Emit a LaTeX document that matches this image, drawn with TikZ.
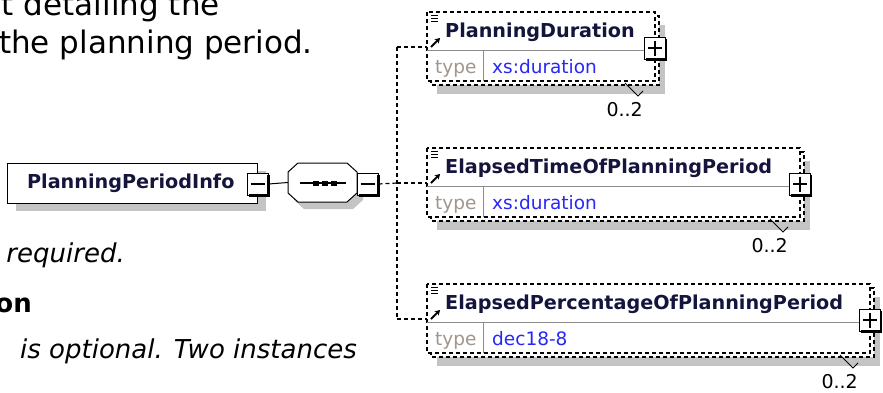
\documentclass[tikz,border=0pt]{standalone}
\usepackage{fontspec}
\setmainfont{DejaVu Sans}[ItalicFont={DejaVu Sans Oblique},BoldFont={DejaVu Sans Bold},BoldItalicFont={DejaVu Sans Bold Oblique}]
\usetikzlibrary{arrows.meta}
\definecolor{shadowgray}{RGB}{196,196,196}
\definecolor{typegray}{RGB}{160,150,140}
\definecolor{valblue}{RGB}{40,40,245}
\definecolor{divgray}{RGB}{140,140,140}
\definecolor{namecol}{RGB}{20,20,60}
\tikzset{
  dsh/.style={dash pattern=on 4pt off 3pt, line width=1.2pt},
  pmbox/.style={draw=black, fill=white, line width=1pt, minimum width=21pt, minimum height=22pt, inner sep=0pt},
  ename/.style={anchor=base west, inner sep=0pt, text=namecol, font=\fontsize{19.2}{23}\selectfont\bfseries},
  tlabel/.style={anchor=base west, inner sep=0pt, text=typegray, font=\fontsize{18.5}{22}\selectfont},
  vlabel/.style={anchor=base west, inner sep=0pt, text=valblue, font=\fontsize{18.5}{22}\selectfont},
  occ/.style={anchor=base east, inner sep=0pt, font=\fontsize{19}{22}\selectfont},
  body/.style={overlay, anchor=base east, inner sep=0pt, font=\fontsize{31}{37}\selectfont},
  bodyit/.style={overlay, anchor=base east, inner sep=0pt, font=\fontsize{26}{31}\selectfont\itshape},
  bodybf/.style={overlay, anchor=base east, inner sep=0pt, font=\fontsize{26}{31}\selectfont\bfseries},
  mainbox/.style={draw=black, fill=white, line width=1pt, minimum height=40pt, inner xsep=0pt, inner ysep=0pt,
     text=namecol, font=\fontsize{19.2}{23}\selectfont\bfseries},
}
\newcommand\mkpm[4]{%
  \node[pmbox] (#1) at (#2,#3) {};
  \draw[line width=2.4pt] ([yshift=-2pt]#1.north east) -- (#1.south east) -- ([xshift=2pt]#1.south west);
  \draw[line width=1.2pt] ([xshift=4pt]#1.west) -- ([xshift=-4pt]#1.east);
  \ifnum#4=1 \draw[line width=1.2pt] ([yshift=-4pt]#1.north) -- ([yshift=4pt]#1.south);\fi
}
\newcommand\xelem[5]{%
  \fill[shadowgray] (437,#2+13) rectangle (#3+10,#2+82);
  \draw[dsh,fill=white] (431,#2+4) rectangle (#3+4,#2+73);
  \draw[dsh,fill=white] (427,#2) rectangle (#3,#2+69);
  \draw[divgray,line width=1pt] (427,#2+38) -- (#3,#2+38);
  \draw[divgray,line width=1pt] (483,#2+38) -- (483,#2+69);
  \node[ename] (#1) at (445,#2+25) {#4};
  \node[tlabel] (#1t) at (435,#2+61) {type};
  \node[vlabel] (#1v) at (492,#2+61) {#5};
  \draw[line width=1pt] (431,#2+3) -- (438,#2+3) (431,#2+6) -- (438,#2+6) (431,#2+9) -- (438,#2+9);
  \draw[line width=2pt, -{Stealth[length=5pt,width=6pt]}] (431,#2+35) -- (440,#2+26);
  \coordinate (#1in) at (427,#2+35);
  \coordinate (#1tr) at (397,#2+35);
  \mkpm{#1pm}{#3}{#2+36}{1}
  \draw[line width=0.8pt] (#3-30,#2+71) -- (#3-17,#2+84) -- (#3-12,#2+79);
  \node[occ] (#1o) at (#3-12,#2+104) {0..2};
}
\begin{document}
\begin{tikzpicture}[x=1pt,y=-1pt]
\useasboundingbox (0,0) rectangle (883,392);
\clip (0,0) rectangle (883,392);
\fill[white] (0,0) rectangle (883,392);
% text on the left
\node[body] (t1) at (220,15) {t detailing the};
\node[body] (t2) at (313,53) {the planning period.};
\node[bodyit] (t3) at (125,262) {required.};
\node[bodybf] (t4) at (32,312) {on};
\node[bodyit] (t5) at (357,358) {is optional. Two instances};
% main element
\fill[shadowgray] (16,171) rectangle (266,211);
\node[mainbox, anchor=east] (ppi) at (258,183) {\hspace*{20pt}PlanningPeriodInfo\hspace*{23pt}};
% sequence compositor
\fill[shadowgray] (304,170) -- (353,170) -- (363,179) -- (363,200) -- (353,209) -- (304,209) -- (294,200) -- (294,179) -- cycle;
\node[minimum width=69pt, minimum height=39pt, inner sep=0pt] (seq) at (322.5,182.5) {};
\draw[line width=1pt, fill=white] (298,163) -- (347,163) -- (357,172) -- (357,193) -- (347,202) -- (298,202) -- (288,193) -- (288,172) -- cycle;
\draw[line width=1.3pt] (300,183) -- (346,183);
\fill (313,180.5) rectangle (319,185.5);
\fill (322,180.5) rectangle (328,185.5);
\fill (331,180.5) rectangle (337,185.5);
\mkpm{ppipm}{257.5}{184}{0}
\mkpm{seqpm}{367.5}{184}{0}
% child elements
\xelem{ea}{12}{655}{PlanningDuration}{xs:duration}
\xelem{eb}{148}{800}{ElapsedTimeOfPlanningPeriod}{xs:duration}
\xelem{ec}{284}{870}{ElapsedPercentageOfPlanningPeriod}{dec18-8}
% connectors
\draw[line width=1pt] (ppipm.east) -- (seq.west);
\draw[dsh] (seqpm.east) -- (ebtr);
\draw[dsh] (eatr) -- (ectr);
\draw[dsh] (eatr) -- (eain);
\draw[dsh] (ebtr) -- (ebin);
\draw[dsh] (ectr) -- (ecin);
\end{tikzpicture}
\end{document}
